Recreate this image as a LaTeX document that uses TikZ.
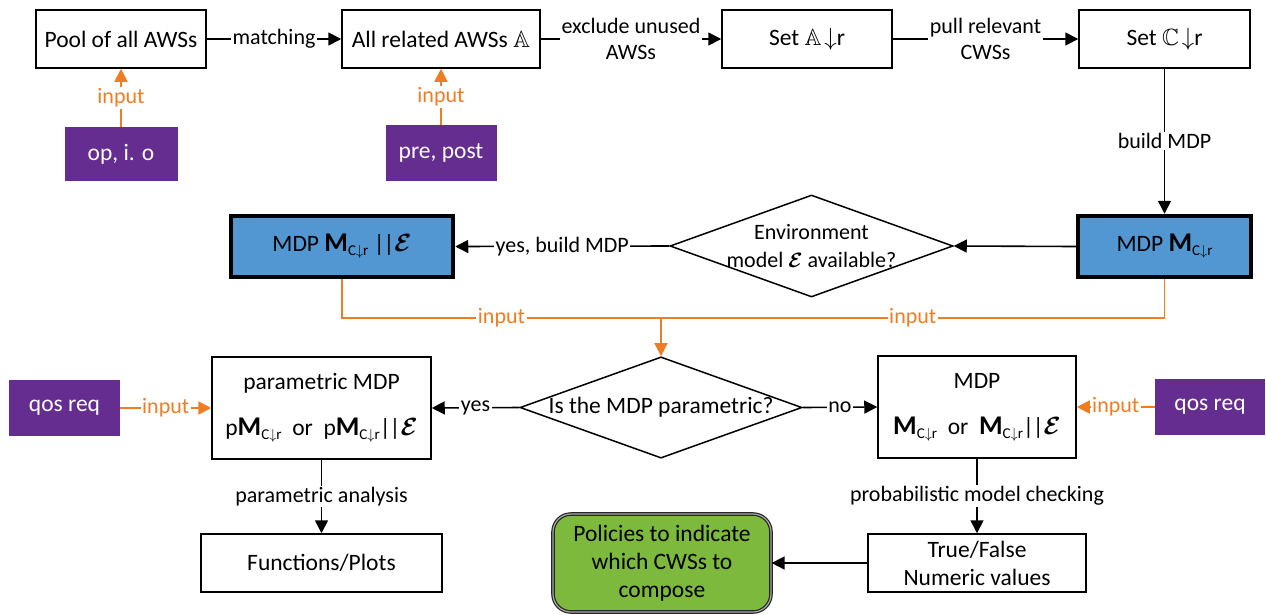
\documentclass[tikz,border=0pt]{standalone}
\usepackage{fontspec}
\setmainfont{Carlito}
\usepackage{amsmath,amssymb,bm}
\usetikzlibrary{arrows.meta,shapes.geometric}
\definecolor{pur}{RGB}{102,45,145}
\definecolor{blu}{RGB}{82,150,210}
\definecolor{ora}{RGB}{240,125,35}
\definecolor{grn}{RGB}{125,185,60}
\newcommand{\MCr}{{\fontsize{27}{27}\selectfont\bfseries M}\raisebox{-0.35ex}{\fontsize{15}{15}\selectfont C$\downarrow$r}}
\newcommand{\Env}{$\bm{\mathcal{E}}$}
\newcommand{\PP}{|\kern-1pt|}
\begin{document}
\begin{tikzpicture}[x=1pt,y=-1pt,
  font=\fontsize{23.5}{28}\selectfont,
  box/.style={draw, line width=1.5pt, inner sep=0pt, align=center},
  pbox/.style={fill=pur, text=white, inner sep=0pt, align=center},
  bbox/.style={draw, fill=blu, line width=4.5pt, inner sep=0pt, align=center},
  dia/.style={diamond, aspect=2.77, draw, line width=1.5pt, align=center},
  arr/.style={line width=1.6pt, -{Triangle[length=13pt,width=13pt]}},
  oline/.style={draw=ora, line width=1.8pt},
  oarr/.style={draw=ora, line width=1.8pt, -{Triangle[length=13pt,width=13pt]}},
  lbl/.style={fill=white, inner sep=1.5pt, align=center, font=\fontsize{22}{26}\selectfont},
  olbl/.style={fill=white, inner sep=1.5pt, text=ora, font=\fontsize{22}{26}\selectfont}]
\useasboundingbox (0,0) rectangle (1266,614);
% top row
\node[box, minimum width=170, minimum height=58] (pool) at (121,39) {Pool of all AWSs};
\node[box, minimum width=198, minimum height=58] (allrel) at (441,39) {All related AWSs $\mathbb{A}$};
\node[box, minimum width=170, minimum height=58] (seta) at (807,39) {Set $\mathbb{A}\!\downarrow$r};
\node[box, minimum width=171, minimum height=58] (setc) at (1164.5,39) {Set $\mathbb{C}\!\downarrow$r};
\node[pbox, minimum width=113, minimum height=54] (opio) at (121,154) {op, i. o};
\node[pbox, minimum width=111, minimum height=56] (prepost) at (441,153) {pre, post};
% middle row
\node[bbox, minimum width=173, minimum height=61] (rblue) at (1164.5,246.5) {MDP \MCr};
\node[dia, inner sep=-13pt, minimum width=283, minimum height=102, font=\fontsize{22}{28.5}\selectfont] (env) at (811.5,246) {Environment\\model \Env{} available?};
\node[bbox, minimum width=222, minimum height=61] (lblue) at (342,246.5) {MDP \MCr{} \PP\Env};
\coordinate (j) at (661,318);
% lower row
\node[dia, inner sep=0pt, minimum width=282, minimum height=101] (d2) at (661,407.5) {Is the MDP parametric?};
\node[box, minimum width=219, minimum height=102] (param) at (321.5,408) {parametric MDP\\[18pt]p\MCr{}\ \ or\ \ p\MCr\PP\Env};
\node[box, minimum width=198, minimum height=102] (mdp) at (977,407) {MDP\\[18pt]\MCr{}\ \ or\ \ \MCr\PP\Env};
\node[pbox, minimum width=111, minimum height=56] (qosl) at (64.5,408) {qos req};
\node[pbox, minimum width=110, minimum height=56] (qosr) at (1210,407) {qos req};
\node[box, minimum width=241, minimum height=58] (func) at (321.5,563) {Functions/Plots};
\node[box, minimum width=218, minimum height=58] (tf) at (977,563) {True/False\\Numeric values};
\node[draw=black!85, fill=grn, line width=1.2pt, double=black!35, double distance=1.2pt, rounded corners=18pt, minimum width=218, minimum height=98, inner sep=0pt, align=center] (green) at (662,563) {Policies to indicate\\which CWSs to\\compose};
% connectors
\draw[arr] (pool) -- node[lbl]{matching} (allrel);
\draw[arr] (allrel) -- node[lbl]{exclude unused\\AWSs} (seta);
\draw[arr] (seta) -- node[lbl]{pull relevant\\CWSs} (setc);
\draw[arr] (setc) -- node[lbl]{build MDP} (rblue);
\draw[arr] (rblue.west) -- (env.east);
\draw[arr] (env.west) -- node[lbl]{yes, build MDP} (lblue.east);
\draw[oarr] (opio) -- node[olbl]{input} (pool);
\draw[oarr] (prepost) -- node[olbl]{input} (allrel);
\draw[oline] (lblue.south) |- node[pos=0.75, olbl]{input} (j);
\draw[oline] (rblue.south) |- node[pos=0.75, olbl]{input} (j);
\draw[oarr] (j) -- (d2.north);
\draw[arr] (d2.west) -- node[lbl]{yes} (param.east);
\draw[arr] (d2.east) -- node[lbl]{no} (mdp.west);
\draw[oarr] (qosl) -- node[olbl]{input} (param);
\draw[oarr] (qosr) -- node[olbl]{input} (mdp);
\draw[arr] (param) -- node[lbl]{parametric analysis} (func);
\draw[arr] (mdp) -- node[lbl]{probabilistic model checking} (tf);
\draw[arr] (tf) -- (green);
\end{tikzpicture}
\end{document}
